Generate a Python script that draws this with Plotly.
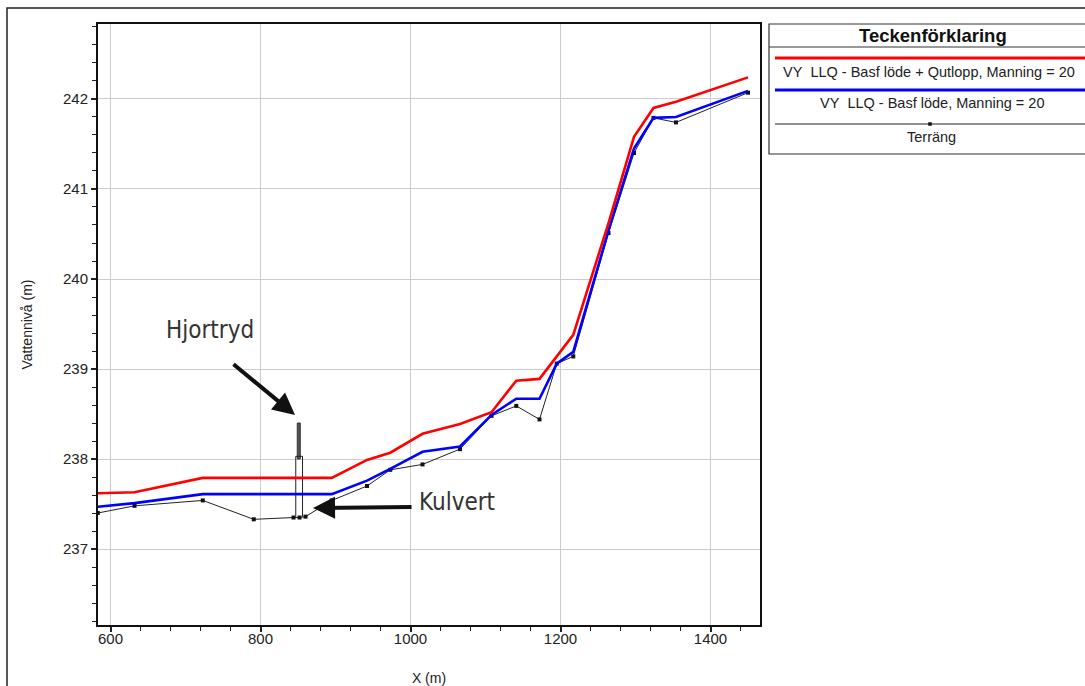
import plotly.graph_objects as go

# ---- data ----
stations = [583, 632, 723, 791, 844, 852, 860, 895, 942, 973, 1016, 1066,
            1108, 1141, 1172, 1195, 1217, 1264, 1298, 1324, 1354, 1450]
terrain = [237.40, 237.48, 237.54, 237.33, 237.35, 237.35, 237.36, 237.54,
           237.70, 237.88, 237.94, 238.11, 238.48, 238.59, 238.44, 239.06,
           239.14, 240.51, 241.40, 241.79, 241.74, 242.07]
wl_base = [237.47, 237.51, 237.61, 237.61, 237.61, 237.61, 237.61, 237.61,
           237.76, 237.89, 238.08, 238.14, 238.49, 238.67, 238.67, 239.06,
           239.19, 240.54, 241.45, 241.79, 241.80, 242.09]
wl_outlet = [237.62, 237.63, 237.79, 237.79, 237.79, 237.79, 237.79, 237.79,
             237.99, 238.07, 238.28, 238.39, 238.52, 238.87, 238.89, 239.14,
             239.38, 240.62, 241.58, 241.90, 241.97, 242.24]

# culvert / bridge at Hjortryd
culv_open_x = [847, 847, 856, 856]
culv_open_y = [237.36, 238.03, 238.03, 237.36]
culv_deck_x = [849, 849, 853, 853, 849]
culv_deck_y = [238.00, 238.40, 238.40, 238.00, 238.00]

name_outlet = "VY\u00a0\u00a0LLQ - Basf löde + Qutlopp, Manning = 20"
name_base = "VY\u00a0\u00a0LLQ - Basf löde, Manning = 20"
name_terrain = "Terräng"
legend_title = "Teckenförklaring"

x_ticks = [600, 800, 1000, 1200, 1400]
y_ticks = [237, 238, 239, 240, 241, 242]

# ---- layout helpers (pixel -> paper) ----
L, R, T, B = 98, 760, 24, 625
W, H = 1085, 686
def pxx(p):
    return (p - L) / (R - L)
def pxy(p):
    return (B - p) / (B - T)

fig = go.Figure()

# culvert drawing
fig.add_trace(go.Scatter(x=culv_deck_x, y=culv_deck_y, mode="lines", fill="toself",
                         fillcolor="#555555", line=dict(color="#333333", width=1),
                         showlegend=False, hoverinfo="skip"))
fig.add_trace(go.Scatter(x=culv_open_x, y=culv_open_y, mode="lines",
                         line=dict(color="#222222", width=1),
                         showlegend=False, hoverinfo="skip"))

fig.add_trace(go.Scatter(x=stations, y=terrain, mode="lines+markers", name=name_terrain,
                         line=dict(color="#222222", width=1),
                         marker=dict(symbol="square", size=4, color="#111111"),
                         showlegend=False))
fig.add_trace(go.Scatter(x=stations, y=wl_base, mode="lines", name=name_base,
                         line=dict(color="#0000ff", width=2.6), showlegend=False))
fig.add_trace(go.Scatter(x=stations, y=wl_outlet, mode="lines", name=name_outlet,
                         line=dict(color="#ff0000", width=2.6), showlegend=False))

axis_font = dict(family="Liberation Sans, Arial, sans-serif", size=15, color="#222222")
title_font = dict(family="Liberation Sans Narrow, Liberation Sans, Arial", size=14, color="#222")

fig.update_xaxes(range=[583.3, 1466], tickvals=x_ticks, ticks="outside", ticklen=5,
                 tickwidth=1.5, tickcolor="#222", showline=True, linewidth=2,
                 linecolor="#111", mirror=True, showgrid=True, gridcolor="#cccccc",
                 gridwidth=1, zeroline=False, tickfont=axis_font, ticklabelstandoff=-6,
                 automargin=False,
                 minor=dict(dtick=40, tick0=0, ticks="outside", ticklen=4,
                            tickwidth=1.2, tickcolor="#222", showgrid=False),
                 title=dict(text="X (m)", font=title_font, standoff=33))
fig.update_yaxes(range=[236.156, 242.833], tickvals=y_ticks, ticks="outside", ticklen=5,
                 tickwidth=1.5, tickcolor="#222", showline=True, linewidth=2,
                 linecolor="#111", mirror=True, showgrid=True, gridcolor="#cccccc",
                 gridwidth=1, zeroline=False, tickfont=axis_font, automargin=False,
                 minor=dict(dtick=0.2, tick0=0, ticks="outside", ticklen=4,
                            tickwidth=1.2, tickcolor="#222", showgrid=False),
                 title=dict(text="Vattennivå (m)", font=title_font, standoff=27))

shapes = []
# outer frame (extends past right/bottom canvas edges)
shapes.append(dict(type="rect", xref="paper", yref="paper",
                   x0=pxx(7), x1=pxx(1100), y0=pxy(700), y1=pxy(8),
                   line=dict(color="#222", width=1.5), layer="below"))
# legend box
shapes.append(dict(type="rect", xref="paper", yref="paper",
                   x0=pxx(769), x1=pxx(1100), y0=pxy(154), y1=pxy(24),
                   line=dict(color="#333", width=1.2), fillcolor="white"))
shapes.append(dict(type="line", xref="paper", yref="paper",
                   x0=pxx(769), x1=pxx(1100), y0=pxy(47), y1=pxy(47),
                   line=dict(color="#333", width=1.2)))
shapes.append(dict(type="line", xref="paper", yref="paper",
                   x0=pxx(775), x1=pxx(1100), y0=pxy(58), y1=pxy(58),
                   line=dict(color="#ff0000", width=3)))
shapes.append(dict(type="line", xref="paper", yref="paper",
                   x0=pxx(775), x1=pxx(1100), y0=pxy(90), y1=pxy(90),
                   line=dict(color="#0000ff", width=3)))
shapes.append(dict(type="line", xref="paper", yref="paper",
                   x0=pxx(775), x1=pxx(1100), y0=pxy(124), y1=pxy(124),
                   line=dict(color="#222", width=1)))
shapes.append(dict(type="rect", xref="paper", yref="paper",
                   x0=pxx(928.5), x1=pxx(931.5), y0=pxy(125.5), y1=pxy(122.5),
                   line=dict(color="#111", width=0.5), fillcolor="#111"))

annotations = []
lf = "Liberation Sans, Arial, sans-serif"
annotations.append(dict(xref="paper", yref="paper", x=pxx(933), y=pxy(36), text="<b>" + legend_title + "</b>",
                        showarrow=False, font=dict(family=lf, size=18.5, color="#111"),
                        xanchor="center", yanchor="middle"))
annotations.append(dict(xref="paper", yref="paper", x=pxx(929), y=pxy(72), text=name_outlet,
                        showarrow=False, font=dict(family=lf, size=14.5, color="#222"),
                        xanchor="center", yanchor="middle"))
annotations.append(dict(xref="paper", yref="paper", x=pxx(932), y=pxy(103), text=name_base,
                        showarrow=False, font=dict(family=lf, size=14.5, color="#222"),
                        xanchor="center", yanchor="middle"))
annotations.append(dict(xref="paper", yref="paper", x=pxx(931), y=pxy(137), text=name_terrain,
                        showarrow=False, font=dict(family=lf, size=14.5, color="#222"),
                        xanchor="center", yanchor="middle"))

nf = "Liberation Sans Narrow, DejaVu Sans Condensed, Arial Narrow, sans-serif"
# labels with arrows
annotations.append(dict(x=732.7, y=239.433, text="Hjortryd", showarrow=False,
                        font=dict(family=nf, size=24, color="#333"),
                        xanchor="center", yanchor="middle"))
annotations.append(dict(x=1062, y=237.522, text="Kulvert", showarrow=False,
                        font=dict(family=nf, size=24, color="#333"),
                        xanchor="center", yanchor="middle"))
annotations.append(dict(x=846, y=238.489, ax=-63, ay=-52, text="", showarrow=True,
                        arrowhead=2, arrowsize=1.1, arrowwidth=4, arrowcolor="#111"))
annotations.append(dict(x=870, y=237.456, ax=100, ay=-1, text="", showarrow=True,
                        arrowhead=2, arrowsize=1.1, arrowwidth=4, arrowcolor="#111"))

fig.update_layout(width=W, height=H, margin=dict(l=L, r=W - R, t=T, b=H - B),
                  paper_bgcolor="white", plot_bgcolor="white",
                  shapes=shapes, annotations=annotations, showlegend=False)

fig.write_html("out.html", config={"displayModeBar": False},
               post_script="document.body.style.margin='0';document.body.style.overflow='hidden';")
